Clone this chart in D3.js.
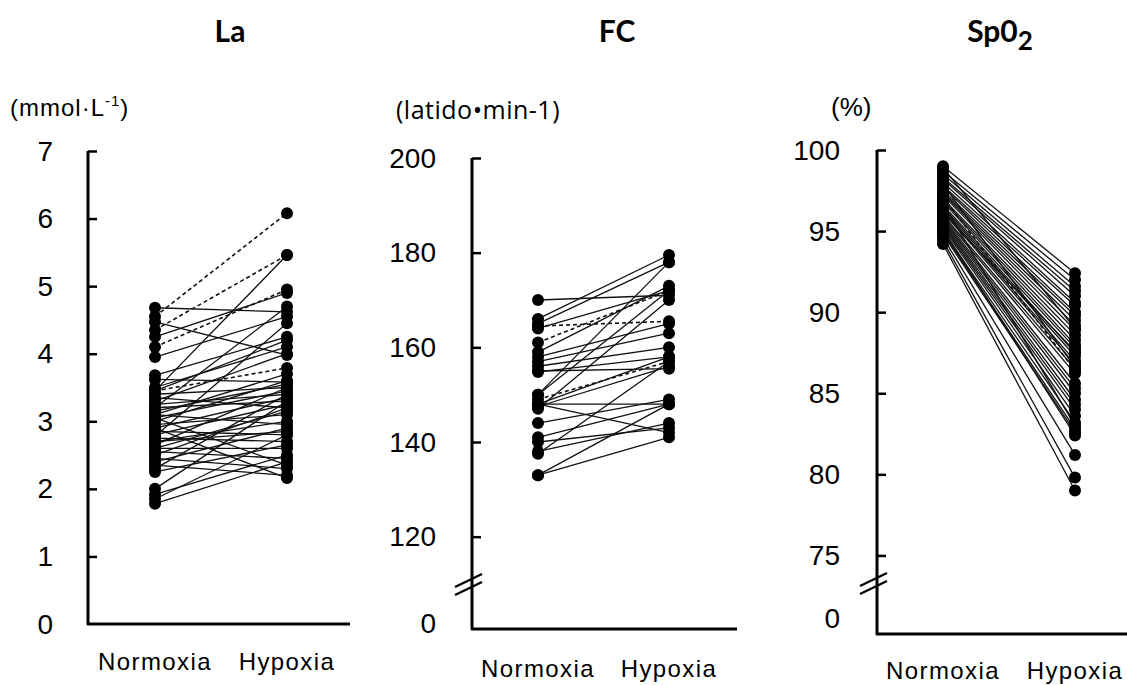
<!DOCTYPE html>
<html>
<head>
<meta charset="utf-8">
<script src="https://cdn.jsdelivr.net/npm/d3@7"></script>
<style>
  body { margin: 0; background: #fff; }
  svg { display: block; }
</style>
</head>
<body>
<svg id="chart" width="1127" height="685"></svg>
<script>
// groups on the x axis
const groups = ['Normoxia', 'Hypoxia'];

// La (mmol·L-1), paired values per subject
const laNormoxia = [4.68, 4.47, 4.25, 3.95, 3.68, 3.62, 3.45, 3.50, 3.45, 3.40, 3.35, 3.30, 3.25, 3.20,
  3.15, 3.10, 3.05, 3.00, 2.95, 2.90, 2.85, 2.80, 2.78, 2.75, 2.70, 2.65, 2.60, 2.55, 2.50, 2.45,
  2.40, 2.35, 2.30, 2.25, 2.90, 3.05, 2.00, 1.92, 1.85, 1.78, 3.20, 3.10, 2.70, 2.60];
const laHypoxia = [4.62, 3.98, 4.90, 4.55, 4.25, 3.58, 5.46, 4.10, 4.20, 3.50, 3.20, 4.00, 3.40, 3.30,
  3.55, 2.95, 3.45, 3.60, 3.10, 3.35, 2.80, 3.25, 4.45, 2.70, 3.00, 3.50, 2.60, 2.45, 3.20, 2.30,
  2.90, 2.20, 3.40, 2.65, 2.16, 2.35, 3.30, 2.50, 2.80, 2.40, 4.70, 3.70, 2.85, 3.15];
const laDashNormoxia = [4.55, 4.35, 4.10, 3.45];
const laDashHypoxia = [6.08, 5.46, 4.95, 3.79];
const laTicks = [0, 1, 2, 3, 4, 5, 6, 7];

// FC (latido·min-1)
const fcNormoxia = [170, 166, 165, 164, 159, 158, 157, 156, 155, 154.8, 150, 150, 148, 148, 147.5,
  147, 148, 144, 141, 140, 138, 137.5, 133, 133];
const fcHypoxia = [171, 179.5, 178, 172, 173, 165, 163, 160, 155.5, 158, 178, 172, 158, 148, 156,
  170, 142, 149, 148, 143, 144, 157, 148, 141];
const fcDashNormoxia = [164.5, 161, 149];
const fcDashHypoxia = [165.5, 172, 157];
const fcTicks = [0, 120, 140, 160, 180, 200];

// SpO2 (%)
const spNormoxia = [99.0, 98.7, 98.5, 98.3, 98.2, 98.0, 97.8, 97.7, 97.5, 97.4, 97.3, 97.2, 97.0, 96.9,
  96.8, 96.6, 96.5, 96.4, 96.3, 96.2, 96.0, 95.9, 95.8, 95.7, 95.6, 95.5, 95.4, 95.3, 95.2, 95.0,
  94.9, 94.8, 94.6, 94.4, 94.2, 98.9, 97.9, 96.7, 96.1, 95.1];
const spHypoxia = [92.4, 92.0, 91.6, 91.3, 91.0, 90.6, 90.4, 90.0, 89.8, 89.5, 89.2, 88.9, 88.6, 88.3,
  88.0, 87.8, 87.5, 87.3, 87.0, 86.8, 86.5, 86.2, 85.6, 85.3, 85.0, 84.6, 84.3, 84.0, 83.6, 83.2,
  82.8, 82.6, 81.2, 79.8, 79.0, 89.0, 86.6, 83.0, 87.6, 82.4];
const spDashNormoxia = [97.1];
const spDashHypoxia = [86.4];
const spTicks = [0, 75, 80, 85, 90, 95, 100];

const svg = d3.select('#chart');

// Panel layouts (positions only; values come from the arrays above)
const panels = [
  {
    title: 'La', titleX: 230, unit: 'la', unitX: 10,
    normoxia: laNormoxia, hypoxia: laHypoxia,
    dashN: laDashNormoxia, dashH: laDashHypoxia, ticks: laTicks,
    axisX: 88, axisEnd: 350, domain: [0, 7], range: [624, 151],
    xRange: [155, 287], pad: 35, labelY: 670, brk: null, zeroShift: 0
  },
  {
    title: 'FC', titleX: 617, unit: 'fc', unitX: 396,
    normoxia: fcNormoxia, hypoxia: fcHypoxia,
    dashN: fcDashNormoxia, dashH: fcDashHypoxia, ticks: fcTicks,
    axisX: 472, axisEnd: 737, domain: [0, 110, 200], range: [629, 584, 158],
    xRange: [538, 669], pad: 36, labelY: 677, brk: 110, zeroShift: -6
  },
  {
    title: 'Sp0', titleX: 1000, unit: 'sp', unitX: 831,
    normoxia: spNormoxia, hypoxia: spHypoxia,
    dashN: spDashNormoxia, dashH: spDashHypoxia, ticks: spTicks,
    axisX: 877, axisEnd: 1127, domain: [0, 73.3, 100], range: [634, 583, 150],
    xRange: [943, 1075], pad: 37, labelY: 679, brk: 73.3, zeroShift: -16
  }
];

panels.forEach(p => {
  const y = d3.scaleLinear().domain(p.domain).range(p.range);
  const x = d3.scalePoint().domain(groups).range(p.xRange);
  const base = p.range[0];
  const g = svg.append('g');

  // title
  const t = g.append('text')
    .attr('x', p.titleX).attr('y', 42)
    .attr('text-anchor', 'middle')
    .style('font-family', 'Lato, "Open Sans", sans-serif')
    .style('font-weight', 700)
    .style('font-size', '30px')
    .text(p.title);
  if (p.unit === 'sp') {
    t.append('tspan').attr('dy', 8).style('font-size', '26px').text('2');
  }

  // unit label
  const u = g.append('text').attr('x', p.unitX).attr('y', 116);
  if (p.unit === 'la') {
    u.style('font-family', '"Liberation Sans", Arial, sans-serif')
      .style('font-size', '24px').style('letter-spacing', '1px');
    u.append('tspan').text('(mmol·L');
    u.append('tspan').attr('dy', -10).style('font-size', '15px').text('-1');
    u.append('tspan').attr('dy', 10).text(')');
  } else if (p.unit === 'fc') {
    u.attr('y', 119)
      .style('font-family', '"Open Sans", sans-serif')
      .style('font-size', '25px')
      .style('letter-spacing', '0.5px')
      .text('(latido•min-1)');
  } else {
    u.style('font-family', '"Liberation Sans", Arial, sans-serif')
      .style('font-size', '26px')
      .text('(%)');
  }

  // y axis with inward ticks
  const axis = g.append('g')
    .attr('transform', `translate(${p.axisX},0)`)
    .call(d3.axisLeft(y).tickValues(p.ticks).tickFormat(d3.format('d'))
      .tickSizeInner(-9).tickSizeOuter(0).tickPadding(p.pad));
  axis.select('.domain').remove();
  axis.selectAll('.tick line').attr('stroke', '#000').attr('stroke-width', 2.5);
  axis.selectAll('.tick text')
    .style('font-family', '"Liberation Sans", Arial, sans-serif')
    .style('font-size', '28px')
    .attr('fill', '#000')
    .attr('dy', d => d === 0 ? p.zeroShift + 9 : 9);
  axis.selectAll('.tick').filter(d => d === 0).select('line').remove();

  // axis lines
  g.append('path')
    .attr('d', `M${p.axisX},${y(p.ticks[p.ticks.length - 1])}V${base}H${p.axisEnd}`)
    .attr('fill', 'none').attr('stroke', '#000').attr('stroke-width', 3)
    .attr('stroke-linejoin', 'round');

  // axis break marks
  if (p.brk !== null) {
    const yb = y(p.brk);
    [-4, 4].forEach(off => {
      g.append('line')
        .attr('x1', p.axisX - 17).attr('y1', yb + off + 7)
        .attr('x2', p.axisX + 10).attr('y2', yb + off - 6)
        .attr('stroke', '#000').attr('stroke-width', 2.2);
    });
  }

  // x labels
  g.selectAll('.xlab').data(groups).join('text')
    .attr('x', d => x(d)).attr('y', p.labelY)
    .attr('text-anchor', 'middle')
    .style('font-family', '"Liberation Sans", Arial, sans-serif')
    .style('font-size', '24px')
    .style('letter-spacing', '1.4px')
    .text(d => d);

  // paired lines
  const solid = p.normoxia.map((v, i) => [v, p.hypoxia[i]]);
  const dashed = p.dashN.map((v, i) => [v, p.dashH[i]]);

  g.selectAll('.pair').data(solid).join('line')
    .attr('x1', x('Normoxia')).attr('y1', d => y(d[0]))
    .attr('x2', x('Hypoxia')).attr('y2', d => y(d[1]))
    .attr('stroke', '#111').attr('stroke-width', 1.3);

  g.selectAll('.dash').data(dashed).join('line')
    .attr('x1', x('Normoxia')).attr('y1', d => y(d[0]))
    .attr('x2', x('Hypoxia')).attr('y2', d => y(d[1]))
    .attr('stroke', '#111').attr('stroke-width', 1.6)
    .attr('stroke-dasharray', '4,3');

  // dots
  const all = solid.concat(dashed);
  groups.forEach((grp, k) => {
    g.selectAll('.dot' + k).data(all).join('circle')
      .attr('cx', x(grp)).attr('cy', d => y(d[k]))
      .attr('r', 6).attr('fill', '#000');
  });
});
</script>
</body>
</html>
